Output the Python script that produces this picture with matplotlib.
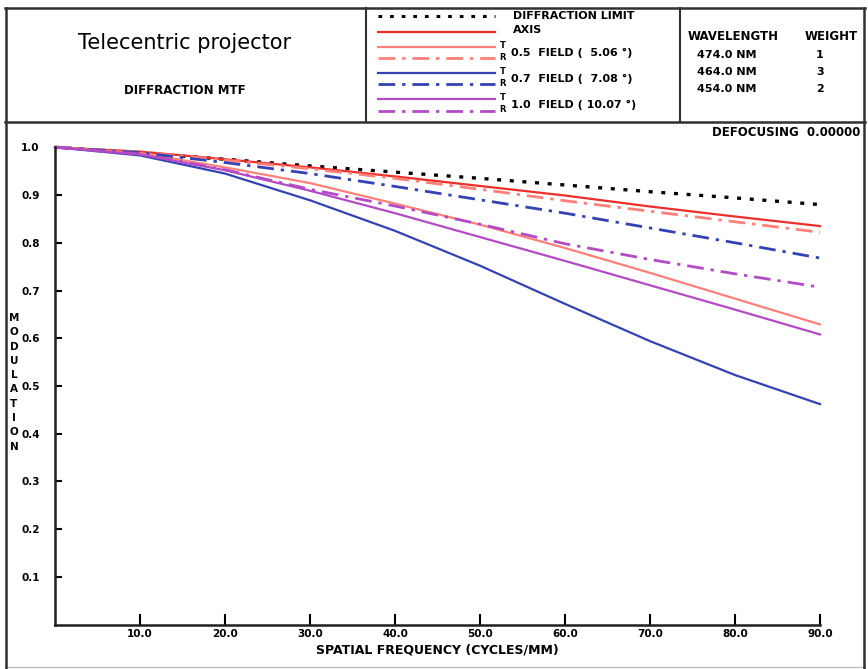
import matplotlib
matplotlib.use("Agg")
import matplotlib.pyplot as plt
from matplotlib.lines import Line2D

# ---------------- data ----------------
freq = [0, 10, 20, 30, 40, 50, 60, 70, 80, 90]
diff_limit = [1.0, 0.988, 0.975, 0.961, 0.948, 0.935, 0.921, 0.907, 0.894, 0.880]
axis_mtf   = [1.0, 0.991, 0.975, 0.958, 0.939, 0.919, 0.899, 0.876, 0.855, 0.835]
f05_T      = [1.0, 0.988, 0.958, 0.925, 0.882, 0.838, 0.789, 0.737, 0.683, 0.629]
f05_R      = [1.0, 0.990, 0.973, 0.955, 0.935, 0.912, 0.888, 0.866, 0.844, 0.822]
f07_T      = [1.0, 0.983, 0.945, 0.889, 0.825, 0.752, 0.672, 0.594, 0.523, 0.462]
f07_R      = [1.0, 0.989, 0.968, 0.945, 0.918, 0.890, 0.862, 0.831, 0.800, 0.768]
f10_T      = [1.0, 0.985, 0.952, 0.909, 0.862, 0.812, 0.762, 0.711, 0.660, 0.608]
f10_R      = [1.0, 0.986, 0.953, 0.912, 0.877, 0.839, 0.798, 0.765, 0.735, 0.707]

xticks = [10, 20, 30, 40, 50, 60, 70, 80, 90]
xticklabels = ["10.0", "20.0", "30.0", "40.0", "50.0", "60.0", "70.0", "80.0", "90.0"]
yticks = [0.1, 0.2, 0.3, 0.4, 0.5, 0.6, 0.7, 0.8, 0.9, 1.0]
yticklabels = ["0.1", "0.2", "0.3", "0.4", "0.5", "0.6", "0.7", "0.8", "0.9", "1.0"]

fields = ["0.5  FIELD (  5.06 \u00b0)", "0.7  FIELD (  7.08 \u00b0)", "1.0  FIELD ( 10.07 \u00b0)"]
wavelengths = ["474.0 NM", "464.0 NM", "454.0 NM"]
weights = ["1", "3", "2"]

# ---------------- styles ----------------
RED = "#ec2f2b"
SALMON = "#ff8078"
BLUE = "#3442b4"
MAGENTA = "#b44ac6"
DOT = (0, (1.2, 2.6))
DASHDOT = (0, (6, 2.5, 1.2, 2.5))
LW = 1.6

W, H = 868, 669
fig = plt.figure(figsize=(W / 100, H / 100), dpi=100)
fig.patch.set_facecolor("white")


def fx(x):
    return x / W


def fy(y):
    return 1 - y / H


def ftext(x, y, s, **kw):
    kw.setdefault("fontsize", 8)
    kw.setdefault("fontweight", "bold")
    kw.setdefault("va", "center")
    kw.setdefault("family", "DejaVu Sans")
    fig.text(fx(x), fy(y), s, **kw)


def fline(x0, x1, y, **kw):
    fig.add_artist(Line2D([fx(x0), fx(x1)], [fy(y), fy(y)], transform=fig.transFigure, **kw))


def vline(x, y0, y1, **kw):
    fig.add_artist(Line2D([fx(x), fx(x)], [fy(y0), fy(y1)], transform=fig.transFigure, **kw))


# frame lines
BC = "#303030"
fline(5, 865, 8, color=BC, lw=1.8)
fline(5, 865, 122, color=BC, lw=1.8)
fline(5, 865, 667, color="#bbbbbb", lw=1.0)
vline(6, 8, 669, color=BC, lw=1.8)
vline(864, 8, 669, color=BC, lw=1.8)
vline(366, 8, 122, color=BC, lw=1.5)
vline(680, 8, 122, color=BC, lw=1.5)

# header left
ftext(185, 43, "Telecentric projector", fontsize=15, fontweight="normal", ha="center")
ftext(185, 90, "DIFFRACTION MTF", fontsize=8.5, ha="center")

# legend
lx0, lx1 = 378, 495
fline(lx0, lx1, 16, color="black", lw=2.2, linestyle=DOT)
fline(lx0, lx1, 32, color=RED, lw=LW)
leg = [(SALMON, 47, 58), (BLUE, 73, 84), (MAGENTA, 99, 111)]
for (c, yt, yr), lab in zip(leg, fields):
    fline(lx0, lx1, yt, color=c, lw=LW)
    fline(lx0, lx1, yr, color=c, lw=LW + 0.4, linestyle=DASHDOT)
    ftext(503, yt - 1, "T", fontsize=6, ha="center")
    ftext(503, yr - 1, "R", fontsize=6, ha="center")
    ftext(511, (yt + yr) / 2, lab, fontsize=8)
ftext(513, 16, "DIFFRACTION LIMIT", fontsize=8)
ftext(513, 30, "AXIS", fontsize=8)

# wavelength table
ftext(688, 37, "WAVELENGTH", fontsize=8.5)
ftext(805, 37, "WEIGHT", fontsize=8.5)
for i, (wl, wt) in enumerate(zip(wavelengths, weights)):
    yy = 55 + 17 * i
    ftext(697, yy, wl, fontsize=8)
    ftext(820, yy, wt, fontsize=8, ha="center")

ftext(860, 133, "DEFOCUSING  0.00000", fontsize=8.5, ha="right")

# ---------------- plot ----------------
ax = fig.add_axes([fx(55), fy(624.7), fx(820) - fx(55), fy(147.3) - fy(624.7)])
ax.set_xlim(0, 90)
ax.set_ylim(0, 1.0)

ax.plot(freq, diff_limit, color="black", lw=2.4, linestyle=DOT, clip_on=False)
ax.plot(freq, axis_mtf, color=RED, lw=LW, clip_on=False)
ax.plot(freq, f05_T, color=SALMON, lw=LW, clip_on=False)
ax.plot(freq, f05_R, color=SALMON, lw=LW + 0.4, linestyle=DASHDOT, clip_on=False)
ax.plot(freq, f07_T, color=BLUE, lw=LW, clip_on=False)
ax.plot(freq, f07_R, color=BLUE, lw=LW + 0.4, linestyle=DASHDOT, clip_on=False)
ax.plot(freq, f10_T, color=MAGENTA, lw=LW, clip_on=False)
ax.plot(freq, f10_R, color=MAGENTA, lw=LW + 0.4, linestyle=DASHDOT, clip_on=False)

for s in ["top", "right"]:
    ax.spines[s].set_visible(False)
for s in ["left", "bottom"]:
    ax.spines[s].set_linewidth(1.8)
    ax.spines[s].set_color("#202020")

ax.set_xticks(xticks)
ax.set_xticklabels(xticklabels, fontsize=7.5, fontweight="bold")
ax.set_yticks(yticks)
ax.set_yticklabels(yticklabels, fontsize=7.5, fontweight="bold")
ax.tick_params(axis="x", direction="in", length=8, width=1.5, pad=3)
ax.tick_params(axis="y", direction="in", length=5, width=1.5, pad=11)

ax.set_xlabel("SPATIAL FREQUENCY (CYCLES/MM)", fontsize=9, fontweight="bold", labelpad=3)

# vertical stacked y label
ylab = "MODULATION"
for i, ch in enumerate(ylab):
    ftext(14, 318 + i * 14.3, ch, fontsize=7.5, ha="center")

fig.savefig("out.png", dpi=100, facecolor="white")
